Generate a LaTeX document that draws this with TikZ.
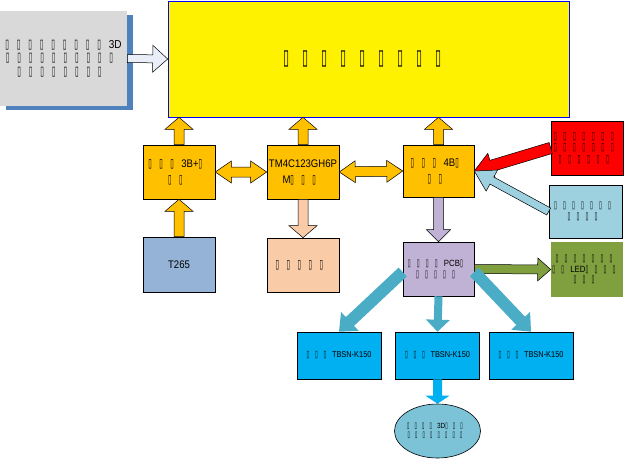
\documentclass[tikz,border=0pt]{standalone}
\usepackage{fontspec}
\setmainfont[FakeStretch=0.87]{Liberation Sans}
\newfontfamily\tofufont[FakeStretch=0.55]{DejaVu Sans}
\usetikzlibrary{calc,shadows,shapes.geometric}

\definecolor{scangray}{HTML}{D9D9D9}
\definecolor{shadowblue}{HTML}{4F81BD}
\definecolor{paleblue}{HTML}{E9EEF8}
\definecolor{amber}{HTML}{FFC000}
\definecolor{slate}{HTML}{95B3D7}
\definecolor{peach}{HTML}{F9CBA7}
\definecolor{lilac}{HTML}{BFB2D4}
\definecolor{skyblue}{HTML}{9DD1DF}
\definecolor{olive}{HTML}{80A040}
\definecolor{teal}{HTML}{4BACC6}
\definecolor{cyanblue}{HTML}{00B0F0}
\definecolor{lagoon}{HTML}{7CC3D7}

% missing glyph, as the picture prints it
\makeatletter
\newcommand\tf{\makebox[\f@size pt][l]{\scalebox{1.05}[1.12]{\tofufont\char"25AF}}}
\makeatother
\newcommand\tfn[1]{\foreach\k in {1,...,#1}{\tf}}

% block arrow: [style]{from}{to}{shaft half}{head half}{head length}
\newcommand\blockarrow[6][]{%
	\path coordinate (ba) at ($(#3)!#6!(#2)$);
	\filldraw[#1] ($(#2)!#4!90:(#3)$) -- ($(ba)!#4!90:(#3)$) -- ($(ba)!#5!90:(#3)$) -- (#3)
		-- ($(ba)!#5!-90:(#3)$) -- ($(ba)!#4!-90:(#3)$) -- ($(#2)!#4!-90:(#3)$) -- cycle;
}
\newcommand\dblarrow[6][]{%
	\path coordinate (ba) at ($(#2)!#6!(#3)$) coordinate (bb) at ($(#3)!#6!(#2)$);
	\filldraw[#1] (#2) -- ($(ba)!#5!90:(#3)$) -- ($(ba)!#4!90:(#3)$) -- ($(bb)!#4!90:(#3)$)
		-- ($(bb)!#5!90:(#3)$) -- (#3) -- ($(bb)!#5!-90:(#3)$) -- ($(bb)!#4!-90:(#3)$)
		-- ($(ba)!#4!-90:(#3)$) -- ($(ba)!#5!-90:(#3)$) -- cycle;
}

\tikzset{
	box/.style={draw=black, line width=0.6pt, minimum width=72pt, minimum height=54pt,
		inner sep=1pt, align=center, font=\fontsize{11}{16}\selectfont},
	small/.style={font=\fontsize{9}{10.5}\selectfont},
	arr/.style={draw=black, line width=0.5pt},
	bare/.style={draw=none},
}

\begin{document}
\begin{tikzpicture}[x=1pt,y=-1pt]
	\useasboundingbox (0,0) rectangle (624,459);
	% boxes
	\node[box, draw=none, fill=scangray, minimum width=127pt, minimum height=95pt,
		font=\fontsize{11.5}{13.5}\selectfont,
		drop shadow={shadow xshift=6pt, shadow yshift=-4pt, fill=shadowblue, opacity=1}]
		(scan) at (63.5,58.5) {\tfn{9}3D\\\tfn{10}\\\tfn{8}};
	\node[box, draw=blue, fill=yellow, minimum width=401pt, minimum height=116pt,
		font=\fontsize{19}{21}\selectfont] (main) at (368.5,59) {\tfn{9}};
	\node[box, fill=amber] (pi) at (179,172) {\tfn{3}3B+\tf\\\tfn{2}};
	\node[box, fill=amber] (mcu) at (303,172) {TM4C123GH6P\\M\tfn{3}};
	\node[box, fill=amber, minimum width=71pt, minimum height=52pt] (ctrl) at (438.5,171) {\tfn{3}4B\tf\\\tfn{2}};
	\node[box, fill=slate, minimum height=55pt] (cam) at (179,264.5) {T265};
	\node[box, fill=peach] (out) at (303,265) {\tfn{5}};
	\node[box, fill=lilac, minimum width=71pt, font=\fontsize{9}{11}\selectfont] (pcb) at (438.5,269) {\tfn{4}PCB\tf\\\tfn{5}};
	\node[box, fill=red, font=\fontsize{9.5}{11.5}\selectfont] (sensa) at (587,148) {\tfn{7}\\\tfn{7}\\\tfn{6}};
	\node[box, fill=skyblue, minimum width=73pt, minimum height=53pt, small] (sensb) at (585.5,211.5) {\tfn{7}\\\tfn{4}};
	\node[box, draw=none, fill=olive, minimum height=55pt, small] (led) at (587,269.5) {\tfn{7}\\\tfn{2}LED\tfn{4}\\\tfn{3}};
	\node[box, fill=cyanblue, minimum width=84pt, minimum height=47pt, font=\fontsize{8.5}{10}\selectfont] (mota) at (339,355.5) {\tfn{3}TBSN-K150};
	\node[box, fill=cyanblue, minimum width=84pt, minimum height=47pt, font=\fontsize{8.5}{10}\selectfont] (motb) at (437.5,355.5) {\tfn{3}TBSN-K150};
	\node[box, fill=cyanblue, minimum width=84pt, minimum height=47pt, font=\fontsize{8.5}{10}\selectfont] (motc) at (531,355.5) {\tfn{3}TBSN-K150};
	\node[box, ellipse, fill=lagoon, minimum width=81pt, minimum height=54pt, inner sep=0pt,
		font=\fontsize{7.5}{9}\selectfont] (model) at (437.5,431) {\tfn{4}3D\tfn{3}\\\tfn{8}};
	% arrows
	\coordinate (piup) at (pi.north |- main.south);
	\coordinate (mcuup) at (mcu.north |- main.south);
	\coordinate (ctrlup) at (ctrl.north |- main.south);
	\coordinate (pcbl) at ($(pcb.west)+(0,3)$);
	\coordinate (pcbr) at ($(pcb.east)+(0,3)$);
	\blockarrow[arr, fill=paleblue]{scan.east}{main.west}{4pt}{13.5pt}{15pt}
	\blockarrow[arr, fill=amber]{pi.north}{piup}{5pt}{14pt}{12pt}
	\blockarrow[arr, fill=amber]{mcu.north}{mcuup}{5pt}{14pt}{12pt}
	\blockarrow[arr, fill=amber]{ctrl.north}{ctrlup}{5pt}{14pt}{12pt}
	\blockarrow[arr, fill=amber]{cam.north}{pi.south}{5pt}{14pt}{12pt}
	\dblarrow[arr, fill=amber]{pi.east}{mcu.west}{5pt}{11pt}{16pt}
	\dblarrow[arr, fill=amber]{mcu.east}{ctrl.west}{5pt}{11pt}{16pt}
	\blockarrow[arr, fill=peach]{mcu.south}{out.north}{5pt}{14pt}{12pt}
	\blockarrow[arr, fill=lilac]{ctrl.south}{pcb.north}{5pt}{12pt}{12pt}
	\blockarrow[arr, fill=red]{sensa.west}{ctrl.east}{5.7pt}{13pt}{18pt}
	\blockarrow[arr, fill=skyblue]{sensb.west}{ctrl.east}{4pt}{12pt}{20pt}
	\blockarrow[arr, fill=olive]{pcb.east}{led.west}{4.5pt}{11.5pt}{13pt}
	\blockarrow[bare, fill=teal]{pcbl}{mota.north}{6pt}{13pt}{15pt}
	\blockarrow[bare, fill=teal]{pcb.south}{motb.north}{4pt}{12pt}{12pt}
	\blockarrow[bare, fill=teal]{pcbr}{motc.north}{6pt}{13pt}{15pt}
	\blockarrow[bare, fill=cyanblue]{motb.south}{model.north}{4.5pt}{12pt}{8pt}
\end{tikzpicture}
\end{document}
